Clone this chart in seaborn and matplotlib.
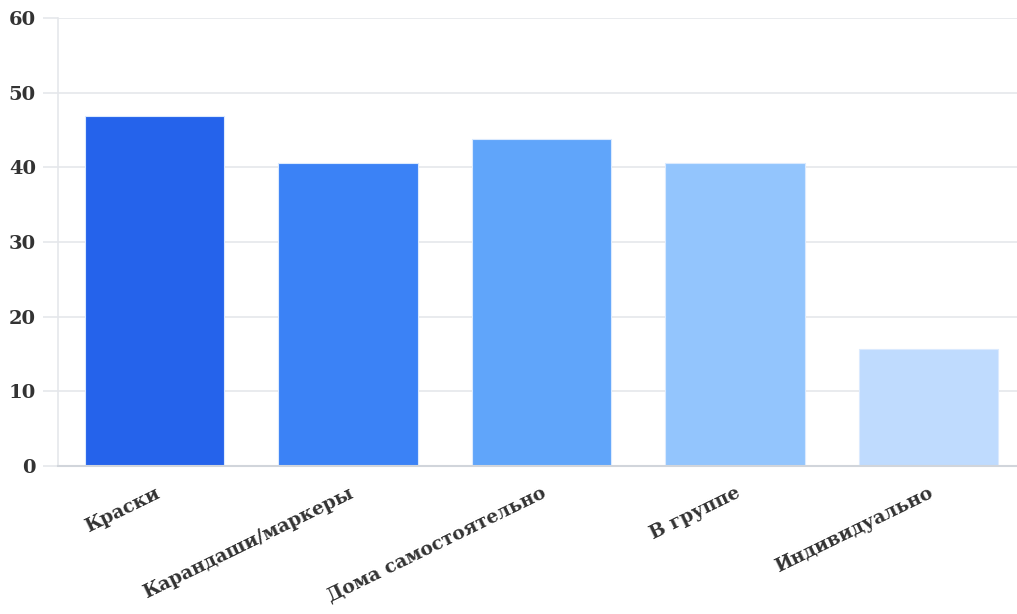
import matplotlib
matplotlib.use("Agg")
import matplotlib.pyplot as plt
import seaborn as sns
import pandas as pd

# ============================
# Data (share of respondents, %)
# ============================
categories = ["Краски", "Карандаши/маркеры", "Дома самостоятельно", "В группе", "Индивидуально"]
values = [46.875, 40.625, 43.75, 40.625, 15.625]
bar_colors = ["#2563EB", "#3B82F6", "#60A5FA", "#93C5FD", "#BFDBFE"]
y_ticks = [0, 10, 20, 30, 40, 50, 60]

df = pd.DataFrame({"category": categories, "value": values})

sns.set_style("white")
plt.rcParams["font.family"] = ["DejaVu Serif"]

fig = plt.figure(figsize=(10.17, 6.14), dpi=100)
ax = fig.add_axes([58 / 1017, 148 / 614, 967 / 1017, 448 / 614])

sns.barplot(data=df, x="category", y="value", hue="category",
            palette=bar_colors, saturation=1, width=0.72, legend=False, ax=ax,
            edgecolor="#dbeafe", linewidth=0.8)

ax.set_ylim(0, 60)
ax.set_xlim(-0.5, 4.5)
ax.set_yticks(y_ticks)
ax.set_xlabel("")
ax.set_ylabel("")

ax.yaxis.grid(True, color="#e5e7eb", linewidth=1.2)
ax.set_axisbelow(True)
for side in ["top", "right"]:
    ax.spines[side].set_visible(False)
ax.spines["left"].set_color("#e5e7eb")
ax.spines["left"].set_linewidth(1.2)
ax.spines["bottom"].set_color("#d1d5db")
ax.spines["bottom"].set_linewidth(1.5)

ax.tick_params(axis="y", left=True, length=11, color="#e5e7eb", width=1.2, pad=5,
               labelsize=14, labelcolor="#333333")
ax.tick_params(axis="x", length=0, pad=13, labelsize=13.5, labelcolor="#333333")
for lbl in ax.get_yticklabels():
    lbl.set_fontweight("bold")
for lbl in ax.get_xticklabels():
    lbl.set_fontweight("bold")
    lbl.set_rotation(26)
    lbl.set_ha("right")
    lbl.set_rotation_mode("anchor")

fig.savefig("out.png", dpi=100)
